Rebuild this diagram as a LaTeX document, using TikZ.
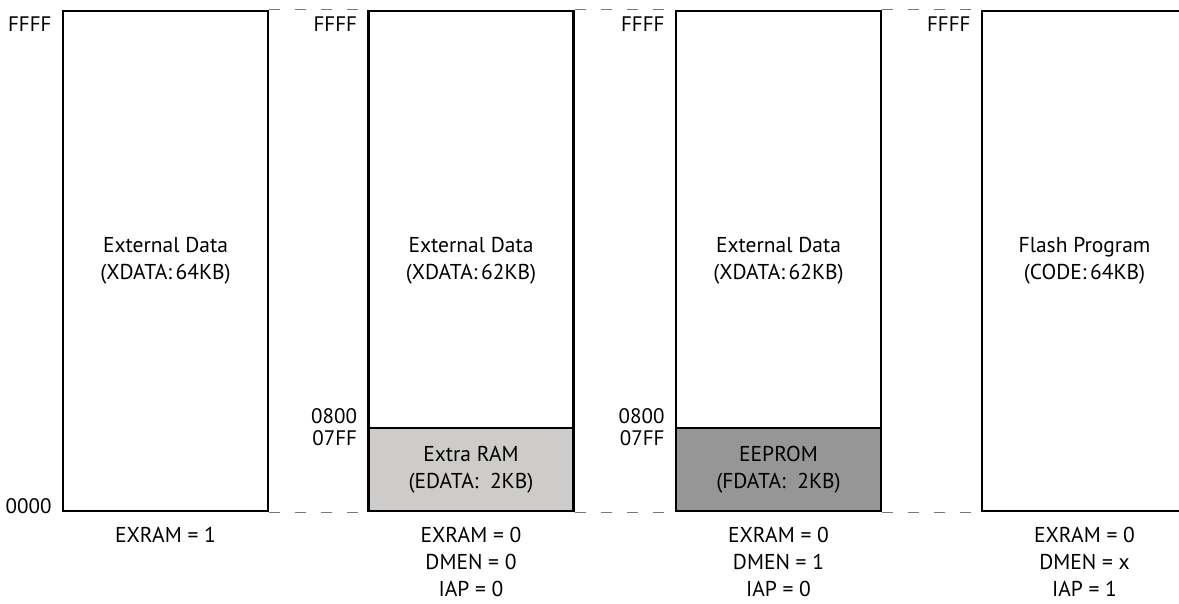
\documentclass[tikz,border=0pt]{standalone}
\usepackage{fontspec}
\setmainfont{PT Sans}
\usetikzlibrary{calc}
\usetikzlibrary{positioning}

\definecolor{ramgray}{RGB}{205,204,202}
\definecolor{romgray}{RGB}{150,150,150}
\definecolor{dashgray}{RGB}{120,120,120}

\begin{document}
\begin{tikzpicture}[x=1pt,y=-1pt,
  region/.style={draw,line width=2.6pt,minimum width=205pt,inner sep=0pt},
  addr/.style={anchor=east,inner sep=0pt,font=\fontsize{21}{24}\selectfont},
  lbl/.style={align=center,inner sep=0pt,font=\fontsize{21.5}{27}\selectfont},
  gap/.style={draw=dashgray,line width=1.3pt,dash pattern=on 11pt off 15pt}]

  \useasboundingbox (0,0) rectangle (1179,603);

  % lower 2KB parts first, outlines on top
  \node [region,fill=ramgray,minimum height=83pt] (ram) at (471,469.5) {};
  \node [region,fill=romgray,minimum height=83pt] (rom) at (778.5,469.5) {};

  \node [region,minimum height=500pt] (xd64) at (165.5,261) {};
  \node [region,minimum height=500pt] (xd62) at (471,261) {};
  \node [region,minimum height=500pt] (fd62) at (778.5,261) {};
  \node [region,minimum height=500pt] (code) at (1084.5,261) {};

  \node [lbl] at (xd64.center) {External Data\\(XDATA:\,64KB)};
  \node [lbl] at (xd62.center) {External Data\\(XDATA:\,62KB)};
  \node [lbl] at (fd62.center) {External Data\\(XDATA:\,62KB)};
  \node [lbl] at (code.center) {Flash Program\\(CODE:\,64KB)};
  \node [lbl] at (ram.center) {Extra RAM\\(EDATA:~~2KB)};
  \node [lbl] at (rom.center) {EEPROM\\(FDATA:~~2KB)};

  \node [addr] (top_1) at ($(xd64.north west)+(-10,14)$) {FFFF};
  \node [addr] (top_2) at ($(xd62.north west)+(-10,14)$) {FFFF};
  \node [addr] (top_3) at ($(fd62.north west)+(-10,14)$) {FFFF};
  \node [addr] (top_4) at ($(code.north west)+(-10,14)$) {FFFF};
  \node [addr] (bot_1) at ($(xd64.south west)+(-10,-6)$) {0000};
  \node [addr] (hi_2) at ($(ram.north west)+(-10,-11)$) {0800};
  \node [addr] (lo_2) at ($(ram.north west)+(-10,11)$) {07FF};
  \node [addr] (hi_3) at ($(rom.north west)+(-10,-11)$) {0800};
  \node [addr] (lo_3) at ($(rom.north west)+(-10,11)$) {07FF};

  \node [lbl,anchor=north] (mode_1) at ($(xd64.south)+(0,15)$) {EXRAM = 1};
  \node [lbl,anchor=north] (mode_2) at ($(xd62.south)+(0,15)$) {EXRAM = 0\\DMEN = 0\\IAP = 0};
  \node [lbl,anchor=north] (mode_3) at ($(fd62.south)+(0,15)$) {EXRAM = 0\\DMEN = 1\\IAP = 0};
  \node [lbl,anchor=north] (mode_4) at ($(code.south)+(0,15)$) {EXRAM = 0\\DMEN = x\\IAP = 1};

  \path [gap]
    (xd64.north east) edge (xd62.north west)
    (xd62.north east) edge (fd62.north west)
    (fd62.north east) edge (code.north west)
    (xd64.south east) edge (xd62.south west)
    (xd62.south east) edge (fd62.south west)
    (fd62.south east) edge (code.south west);
\end{tikzpicture}
\end{document}
